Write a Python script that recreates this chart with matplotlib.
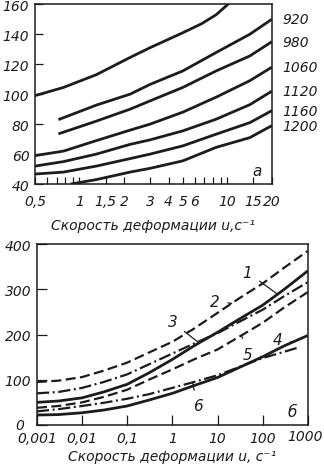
import matplotlib
matplotlib.use("Agg")
import matplotlib.pyplot as plt
import matplotlib.ticker as mticker
import matplotlib.transforms as mtransforms
import numpy as np

INK = "#1c1c1c"

# --- panel a: stress vs strain rate at several temperatures ---
TOP_X_TICKS = [0.5, 1, 1.5, 2, 3, 4, 5, 6, 10, 15, 20]
TOP_X_LABELS = ["0,5", "1", "1,5", "2", "3", "4", "5", "6", "10", "15", "20"]
TOP_X_MINOR = [0.6, 0.7, 0.8, 0.9, 7, 8, 9]
TOP_Y_TICKS = [40, 60, 80, 100, 120, 140, 160]

top0_x = [0.5, 0.78, 1.3, 2.2, 3.0, 5.0, 6.7, 8.4, 10.1, 11]
top0_y = [99, 104.5, 113, 124.5, 131, 141, 147, 153, 160, 163]
c920_x = [0.72, 1.3, 2.2, 3.0, 5.0, 8.4, 14.2, 20]
c920_y = [83, 92.7, 100, 106.5, 115.5, 127.8, 140, 150]
c980_x = [0.72, 1.3, 2.2, 3.0, 5.0, 8.4, 14.2, 20]
c980_y = [73.5, 82, 90, 95.5, 104.5, 115.5, 125.5, 135]
c1060_x = [0.5, 0.78, 1.3, 2.2, 3.0, 5.0, 8.4, 14.2, 20]
c1060_y = [59, 62, 69, 76, 80, 88, 98, 109, 118]
c1120_x = [0.5, 0.78, 1.3, 2.2, 3.0, 5.0, 8.4, 14.2, 20]
c1120_y = [52, 55, 60, 66.5, 69.5, 75.5, 83.3, 93, 102]
c1160_x = [0.5, 0.78, 1.3, 2.2, 3.0, 5.0, 8.4, 14.2, 20]
c1160_y = [46.7, 48, 52, 57, 60, 65.5, 73.3, 81, 89]
c1200_x = [0.87, 1.3, 2.2, 3.0, 5.0, 8.4, 14.2, 20]
c1200_y = [40, 43, 48, 50.5, 55.5, 64.5, 71, 79]
temp_labels = ["920", "980", "1060", "1120", "1160", "1200"]

# --- panel b: six numbered curves ---
BOT_X_TICKS = [0.001, 0.01, 0.1, 1, 10, 100, 1000]
BOT_X_LABELS = ["0,001", "0,01", "0,1", "1", "10", "100", ""]
BOT_Y_TICKS = [0, 100, 200, 300, 400]
BOT_Y_LABELS = ["", "100", "200", "300", "400"]

bx = [0.001, 0.003, 0.01, 0.03, 0.1, 0.3, 1, 3, 10, 30, 100, 300, 1000]
s1 = [50, 53, 60, 73, 90, 115, 145, 175, 205, 234, 265, 300, 341]
s2 = [95, 98, 106, 120, 138, 160, 184, 213, 248, 280, 313, 348, 385]
s3 = [70, 73, 82, 95, 112, 134, 158, 180, 203, 228, 255, 285, 316]
s4 = [22, 23, 27, 33, 42, 55, 70, 87, 105, 127, 151, 175, 198]
s5 = [38, 42, 50, 62, 78, 100, 123, 145, 167, 195, 226, 260, 294]
s6_x = [0.001, 0.003, 0.01, 0.03, 0.1, 0.3, 1, 3, 10, 30, 100, 300, 600]
s6 = [30, 35, 42, 49, 58, 68, 82, 95, 110, 128, 148, 162, 171]

curve_names = ["1", "2", "3", "4", "5", "6"]
# text position (x, y) and x on the curve where the leader line ends
label_text_pos = [(46, 338), (8.7, 274), (1.0, 228), (214, 190), (46, 157), (3.6, 42)]
label_target_x = [214, 20.6, 3.65, 461, 34, 2.8]

DASHED = (0, (4.5, 2.0))
DASHDOT = (0, (5.5, 1.6, 0.9, 1.6))

plt.rcParams["font.family"] = ["DejaVu Sans"]
plt.rcParams["font.style"] = "italic"
plt.rcParams["lines.solid_capstyle"] = "butt"

fig = plt.figure(figsize=(3.24, 4.77), dpi=100)
ax_a = fig.add_axes([0.108, 0.612, 0.731, 0.377])
ax_b = fig.add_axes([0.114, 0.107, 0.836, 0.379])

for ax in (ax_a, ax_b):
    for sp in ax.spines.values():
        sp.set_color(INK)
        sp.set_linewidth(1.1)
    ax.tick_params(which="both", direction="in", color=INK, width=0.9,
                   labelcolor=INK, labelsize=10, top=False, right=False)

# panel a
top_series = [
    (top0_x, top0_y),
    (c920_x, c920_y),
    (c980_x, c980_y),
    (c1060_x, c1060_y),
    (c1120_x, c1120_y),
    (c1160_x, c1160_y),
    (c1200_x, c1200_y),
]
for xs, ys in top_series:
    ax_a.plot(xs, ys, color=INK, lw=2.0)

ax_a.set_xscale("log")
ax_a.set_xlim(0.5, 20)
ax_a.set_ylim(40, 160)
ax_a.xaxis.set_major_locator(mticker.FixedLocator(TOP_X_TICKS))
ax_a.xaxis.set_major_formatter(mticker.FixedFormatter(TOP_X_LABELS))
ax_a.xaxis.set_minor_locator(mticker.FixedLocator(TOP_X_MINOR))
ax_a.xaxis.set_minor_formatter(mticker.NullFormatter())
ax_a.set_yticks(TOP_Y_TICKS)
ax_a.tick_params(axis="x", which="both", length=5, pad=7)
ax_a.tick_params(axis="y", length=6, pad=4)
ax_a.set_xlabel("Скорость деформации u,c⁻¹", fontsize=10, color=INK, labelpad=7)

trans_a = mtransforms.blended_transform_factory(ax_a.transAxes, ax_a.transData)
for (xs, ys), lab in zip(top_series[1:], temp_labels):
    ax_a.text(1.045, ys[-1], lab, transform=trans_a, fontsize=10, color=INK,
              va="center", ha="left", clip_on=False)
ax_a.text(0.937, 0.075, "а", transform=ax_a.transAxes, fontsize=11,
          color=INK, ha="center", va="center")

# panel b
bot_series = [
    (bx, s1, "-"),
    (bx, s2, DASHED),
    (bx, s3, DASHDOT),
    (bx, s4, "-"),
    (bx, s5, DASHED),
    (s6_x, s6, DASHDOT),
]
for xs, ys, ls in bot_series:
    ax_b.plot(xs, ys, color=INK, lw=2.0 if ls == "-" else 1.6, linestyle=ls)

for (xs, ys, _), name, tpos, tx in zip(bot_series, curve_names,
                                       label_text_pos, label_target_x):
    ty = np.interp(np.log10(tx), np.log10(xs), ys)
    ax_b.annotate(name, xy=(tx, ty), xytext=tpos, textcoords="data",
                  fontsize=11, color=INK, ha="center", va="center",
                  arrowprops=dict(arrowstyle="-", color=INK, lw=0.9,
                                  shrinkA=4, shrinkB=0))

ax_b.set_xscale("log")
ax_b.set_xlim(0.001, 1000)
ax_b.set_ylim(0, 400)
ax_b.xaxis.set_major_locator(mticker.FixedLocator(BOT_X_TICKS))
ax_b.xaxis.set_major_formatter(mticker.FixedFormatter(BOT_X_LABELS))
ax_b.xaxis.set_minor_locator(mticker.NullLocator())
ax_b.yaxis.set_major_locator(mticker.FixedLocator(BOT_Y_TICKS))
ax_b.yaxis.set_major_formatter(mticker.FixedFormatter(BOT_Y_LABELS))
ax_b.tick_params(axis="x", length=7, pad=4)
ax_b.tick_params(axis="y", length=7, pad=4)
ax_b.set_xlabel("Скорость деформации u, с⁻¹", fontsize=10, color=INK, labelpad=3)
# corner labels placed by hand, as in the source
ax_b.text(-0.063, 0.0, "0", transform=ax_b.transAxes, fontsize=10,
          color=INK, ha="center", va="center")
ax_b.text(0.989, -0.022, "1000", transform=ax_b.transAxes, fontsize=10,
          color=INK, ha="center", va="top")
ax_b.text(0.941, 0.077, "б", transform=ax_b.transAxes, fontsize=11,
          color=INK, ha="center", va="center")

fig.savefig("out.png", dpi=100, facecolor="white")
